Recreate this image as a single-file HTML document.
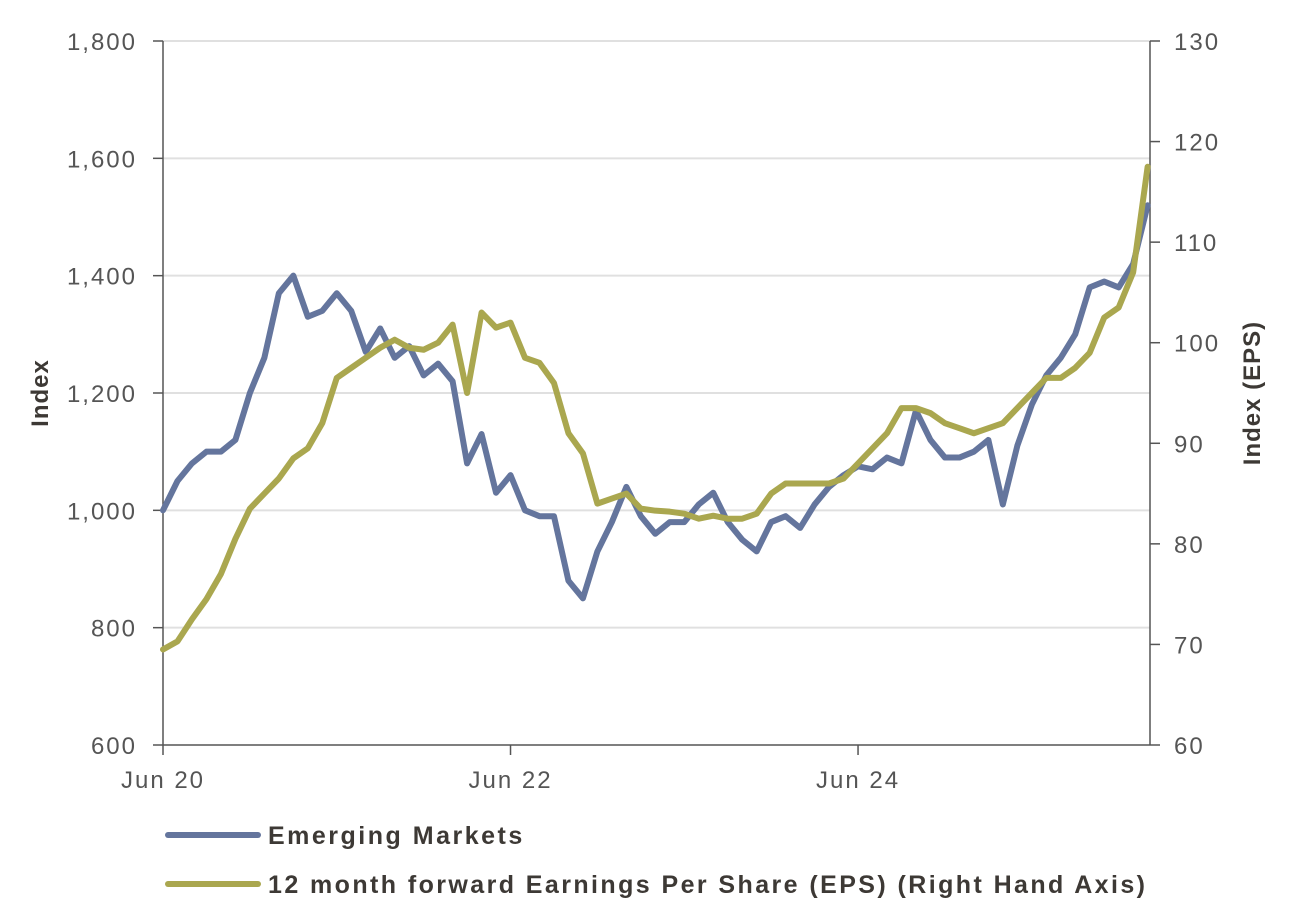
<!DOCTYPE html>
<html><head><meta charset="utf-8"><style>
body{margin:0;background:#fff;}
svg{display:block;font-family:"Liberation Sans",sans-serif;}
</style></head><body>
<svg id="chart" width="1299" height="909" viewBox="0 0 1299 909">
<g id="grid"></g>
<g id="axes"></g>
<g id="series"></g>
<text x="48" y="393" transform="rotate(-90 48 393)" text-anchor="middle" font-size="24" font-weight="bold" letter-spacing="1" fill="#3d3935">Index</text>
<text x="1260" y="393" transform="rotate(-90 1260 393)" text-anchor="middle" font-size="24" font-weight="bold" letter-spacing="1" fill="#3d3935">Index (EPS)</text>
<g>
<g>
<line x1="168" y1="835" x2="258" y2="835" stroke="#64759d" stroke-width="6" stroke-linecap="round"/>
<text x="268" y="844" font-size="25" font-weight="bold" letter-spacing="2.5" fill="#3d3935">Emerging Markets</text></g>
<g>
<line x1="168" y1="884" x2="258" y2="884" stroke="#aaa74f" stroke-width="6" stroke-linecap="round"/>
<text x="268" y="893" font-size="25" font-weight="bold" textLength="877" lengthAdjust="spacing" fill="#3d3935">12 month forward Earnings Per Share (EPS) (Right Hand Axis)</text></g>
</g>
</svg>
<script>
const months=[];for(let i=0;i<=68;i++)months.push(i);
const emValues=[1000,1050,1080,1100,1100,1120,1200,1260,1370,1400,1330,1340,1370,1340,1270,1310,1260,1280,1230,1250,1220,1080,1130,1030,1060,1000,990,990,880,850,930,980,1040,990,960,980,980,1010,1030,980,950,930,980,990,970,1010,1040,1060,1075,1070,1090,1080,1170,1120,1090,1090,1100,1120,1010,1110,1180,1230,1260,1300,1380,1390,1380,1420,1520];
const epsValues=[69.5,70.3,72.5,74.5,77,80.5,83.5,85,86.5,88.5,89.5,92,96.5,97.5,98.5,99.5,100.3,99.5,99.3,100,101.8,95,103,101.5,102,98.5,98,96,91,89,84,84.5,85,83.5,83.3,83.2,83,82.5,82.8,82.5,82.5,83,85,86,86,86,86,86.5,88,89.5,91,93.5,93.5,93,92,91.5,91,91.5,92,93.5,95,96.5,96.5,97.5,99,102.5,103.5,107,117.5];
const leftTicks=[600,800,1000,1200,1400,1600,1800];
const rightTicks=[60,70,80,90,100,110,120,130];
const xTickLabels=["Jun 20","Jun 22","Jun 24"];
const xTickMonths=[0,24,48];
const NS="http://www.w3.org/2000/svg";
const x=m=>163+m*14.48;
const yL=v=>745-(v-600)/1200*704;
const yR=v=>745-(v-60)/70*704;
function mk(tag,attrs,parent){const e=document.createElementNS(NS,tag);for(const k in attrs)e.setAttribute(k,attrs[k]);parent.appendChild(e);return e;}
const grid=document.getElementById('grid'),axes=document.getElementById('axes'),series=document.getElementById('series');
leftTicks.forEach(t=>{
  if(t>600){const g=mk('line',{x1:163,x2:1150,y1:yL(t),y2:yL(t),stroke:'#e0e0e0','stroke-width':2},grid);
  
  }
  mk('line',{x1:153,x2:163,y1:yL(t),y2:yL(t),stroke:'#555','stroke-width':1.5},axes);
  const tx=mk('text',{x:137,y:yL(t)+9,'text-anchor':'end','font-size':24,'letter-spacing':2,fill:'#555'},axes);
  tx.textContent=t.toLocaleString('en-US');
  
  
});
rightTicks.forEach(t=>{
  mk('line',{x1:1150,x2:1160,y1:yR(t),y2:yR(t),stroke:'#555','stroke-width':1.5},axes);
  const tx=mk('text',{x:1174,y:yR(t)+9,'font-size':24,'letter-spacing':2,fill:'#555'},axes);
  tx.textContent=t;
  
  
});
mk('line',{x1:163,x2:163,y1:41,y2:745,stroke:'#555','stroke-width':1.5},axes);
mk('line',{x1:1150,x2:1150,y1:41,y2:745,stroke:'#555','stroke-width':1.5},axes);
mk('line',{x1:163,x2:1150,y1:745,y2:745,stroke:'#555','stroke-width':1.5},axes);
xTickMonths.forEach((m,i)=>{
  mk('line',{x1:x(m),x2:x(m),y1:745,y2:755,stroke:'#555','stroke-width':1.5},axes);
  const tx=mk('text',{x:x(m),y:788,'text-anchor':'middle','font-size':24,'letter-spacing':2,fill:'#555'},axes);
  tx.textContent=xTickLabels[i];
  
  
});
const em=mk('polyline',{points:months.map((m,i)=>x(m)+','+yL(emValues[i])).join(' '),fill:'none',stroke:'#64759d','stroke-width':6,'stroke-linejoin':'round','stroke-linecap':'round'},series);


const eps=mk('polyline',{points:months.map((m,i)=>x(m)+','+yR(epsValues[i])).join(' '),fill:'none',stroke:'#aaa74f','stroke-width':6,'stroke-linejoin':'round','stroke-linecap':'round'},series);


</script>
</body></html>
